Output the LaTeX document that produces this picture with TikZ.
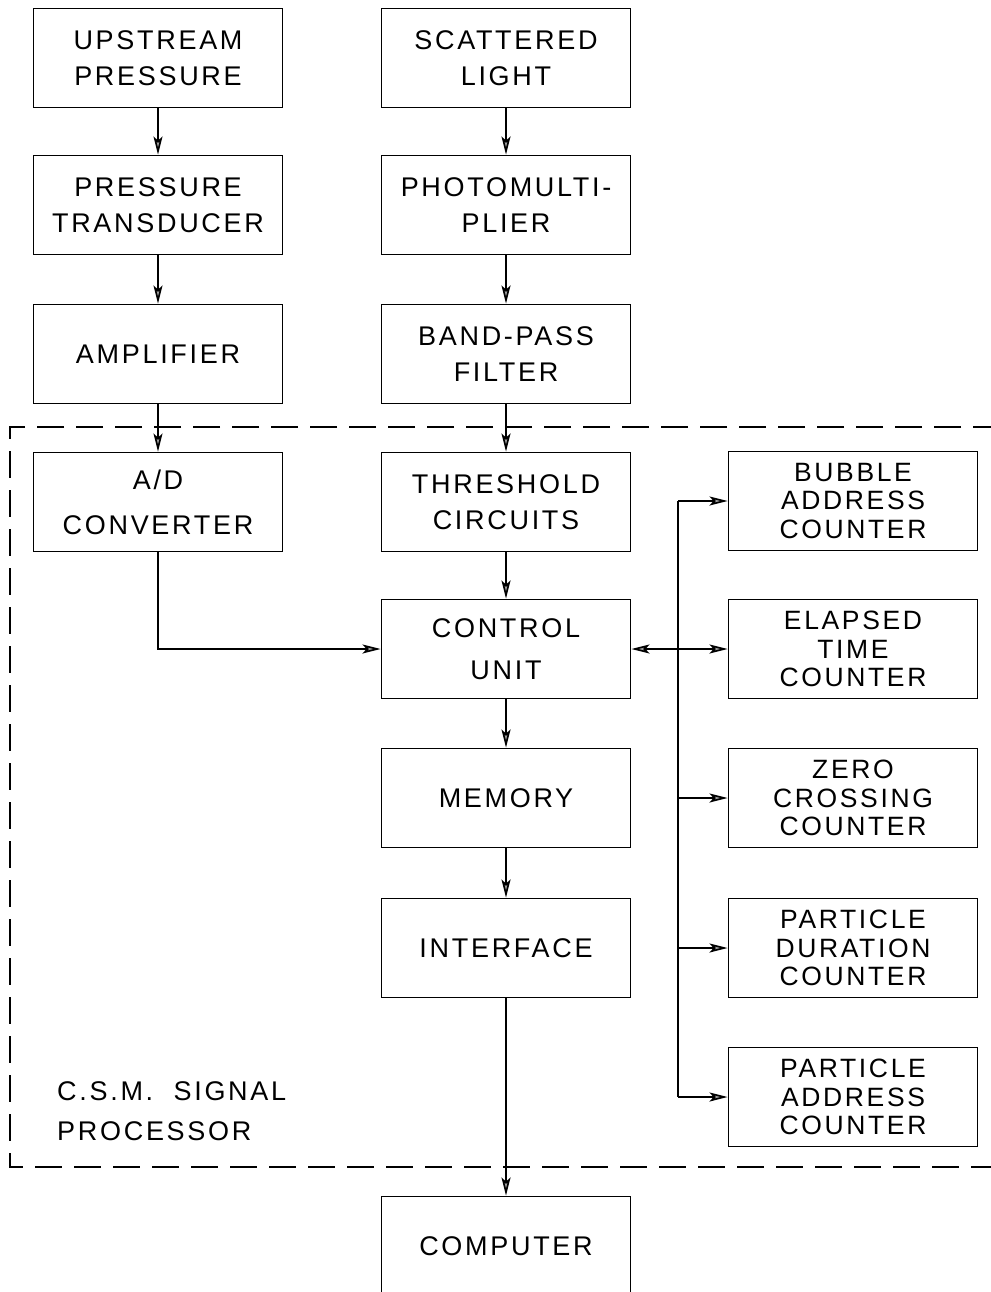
\documentclass[tikz,border=0pt]{standalone}
\usepackage{fontspec}
\newfontfamily\lblfont[LetterSpace=10]{Liberation Sans}
\usetikzlibrary{arrows.meta}
\begin{document}
\begin{tikzpicture}[x=1pt,y=-1pt,
  box/.style={draw, line width=1.9pt, minimum width=249pt, minimum height=99pt, inner sep=0pt, align=center,
    font=\lblfont\fontsize{27}{36}\selectfont},
  three/.style={font=\lblfont\fontsize{26.5}{28.5}\selectfont},
  mytip/.tip={Stealth[length=18pt,width=9pt,inset=4pt,fill=gray!70]},
  arr/.style={line width=1.7pt, -mytip},
  wire/.style={line width=1.7pt},
  frame/.style={line width=1.9pt, dash pattern=on 27pt off 12pt},
  lbl/.style={inner sep=0pt, align=left, font=\lblfont\fontsize{27}{40}\selectfont}
]
\useasboundingbox (0,0) rectangle (990,1292);

% left column
\node[box] (up) at (158,58) {UPSTREAM\\PRESSURE};
\node[box] (ptr) at (158,205) {PRESSURE\\TRANSDUCER};
\node[box] (amp) at (158,354) {AMPLIFIER};
\node[box] (ad) at (158,502) {A/D\\[9pt]CONVERTER};

% middle column
\node[box] (scat) at (506,58) {SCATTERED\\LIGHT};
\node[box] (pmt) at (506,205) {PHOTOMULTI-\\PLIER};
\node[box] (bpf) at (506,354) {BAND-PASS\\FILTER};
\node[box] (thr) at (506,502) {THRESHOLD\\CIRCUITS};
\node[box] (ctrl) at (506,649) {CONTROL\\[6pt]UNIT};
\node[box] (mem) at (506,798) {MEMORY};
\node[box] (intf) at (506,948) {INTERFACE};
\node[box] (comp) at (506,1246) {COMPUTER};

% right column
\node[box,three] (bub) at (853,501) {BUBBLE\\ADDRESS\\COUNTER};
\node[box,three] (ela) at (853,649) {ELAPSED\\TIME\\COUNTER};
\node[box,three] (zero) at (853,798) {ZERO\\CROSSING\\COUNTER};
\node[box,three] (pdur) at (853,948) {PARTICLE\\DURATION\\COUNTER};
\node[box,three] (padr) at (853,1097) {PARTICLE\\ADDRESS\\COUNTER};

% processor frame
\draw[frame] (1000,427) -- (10,427) -- (10,1167) -- (1000,1167);
\node[lbl, anchor=north west] (csm) at (57,1081) {C.S.M.\ \ SIGNAL\\PROCESSOR};

% vertical flow
\draw[arr] (up) -- (ptr);
\draw[arr] (ptr) -- (amp);
\draw[arr] (amp) -- (ad);
\draw[arr] (scat) -- (pmt);
\draw[arr] (pmt) -- (bpf);
\draw[arr] (bpf) -- (thr);
\draw[arr] (thr) -- (ctrl);
\draw[arr] (ctrl) -- (mem);
\draw[arr] (mem) -- (intf);
\draw[arr] (intf) -- (comp);
\draw[arr] (ad.south) |- (ctrl.west);

% bus to counters
\coordinate (bus) at (678,0);
\draw[wire] (bus |- bub.west) -- (bus |- padr.west);
\draw[wire, mytip-mytip] (ctrl.east) -- (ela.west);
\draw[arr] (bus |- bub.west) -- (bub.west);
\draw[arr] (bus |- zero.west) -- (zero.west);
\draw[arr] (bus |- pdur.west) -- (pdur.west);
\draw[arr] (bus |- padr.west) -- (padr.west);
\end{tikzpicture}
\end{document}
